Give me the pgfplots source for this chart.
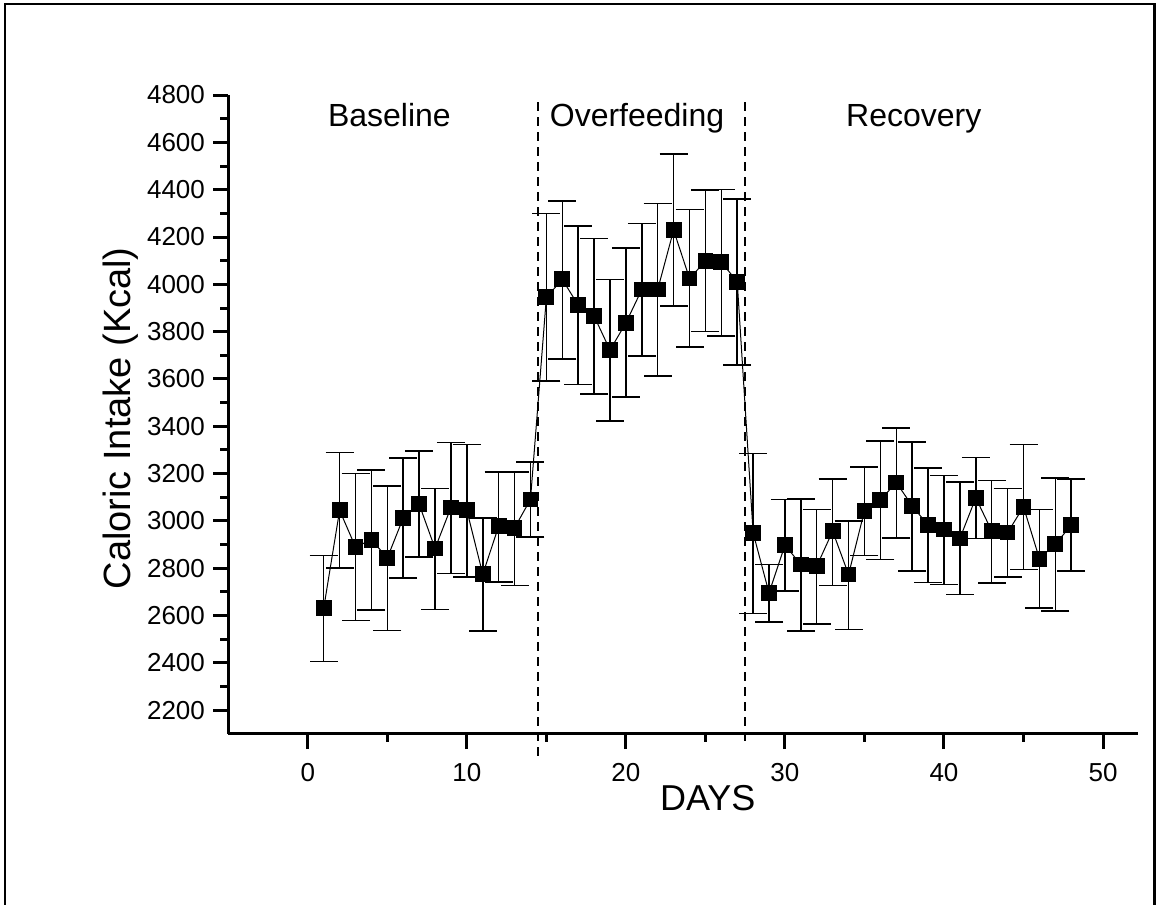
\documentclass[border=0pt]{standalone}
\usepackage{fontspec}
\setmainfont{Liberation Sans}
\usepackage{pgfplots}
\usepackage{pgfplotstable}
\pgfplotsset{compat=1.18}
\pgfplotstableread{
x y ep em
1 2632 223 225
2 3045 244 243
3 2890 310 310
4 2921 294 298
5 2844 303 306
6 3013 254 253
7 3071 224 223
8 2884 253 258
9 3057 275 279
10 3045 278 281
11 2775 238 240
12 2978 229 236
13 2971 236 243
14 3091 159 158
15 3945 355 354
16 4021 332 336
17 3912 334 335
18 3866 328 330
19 3722 299 300
20 3837 317 314
21 3978 279 280
22 3978 364 365
23 4229 322 321
24 4025 292 289
25 4098 300 298
26 4094 307 312
27 4011 349 352
28 2950 335 341
29 2696 121 123
30 2898 193 194
31 2816 277 281
32 2809 239 245
33 2957 221 229
34 2774 225 232
35 3043 186 189
36 3088 250 251
37 3163 229 235
38 3064 270 276
39 2982 242 242
40 2964 229 233
41 2926 239 237
42 3098 170 172
43 2958 214 220
44 2951 186 187
45 3060 263 265
46 2841 207 209
47 2902 280 282
48 2982 195 194
}\datatable
\begin{document}
\begin{tikzpicture}
\path[use as bounding box] (0pt,0pt) rectangle (579pt,452.5pt);
\draw[line width=1.2pt] (2.5pt,0pt) -- (2.5pt,450.5pt) -- (577.25pt,450.5pt) -- (577.25pt,0pt);
\begin{axis}[
  at={(114.15pt,85.5pt)}, anchor=south west,
  scale only axis, width=454.85pt, height=319.5pt,
  xmin=-5, xmax=52.2, ymin=2100, ymax=4800,
  axis x line=bottom, axis y line=left,
  axis line style={-, line width=1.5pt},
  xtick={0,10,...,50}, ytick={2200,2400,...,4800},
  minor x tick num=1, minor y tick num=1,
  tick align=outside,
  major tick length=7.5pt, minor tick length=4pt,
  every tick/.style={line width=1.5pt, black},
  /pgf/number format/assume math mode=true,
  /pgf/number format/1000 sep={},
  tick label style={font=\fontsize{13}{15}\selectfont},
  xticklabel style={anchor=north, inner sep=0pt, yshift=-7pt},
  yticklabel style={anchor=east, inner sep=0pt, xshift=-4pt},
  xlabel={DAYS},
  ylabel={Caloric Intake (Kcal)},
  xlabel style={font=\fontsize{18}{20}\selectfont, at={(axis description cs:0.527,-0.119)}, anchor=base},
  ylabel style={font=\fontsize{19}{21}\selectfont, at={(axis description cs:-0.108,0.494)}, anchor=base},
  clip=false,
]
\addplot[black, line width=0.5pt, mark=square*, mark size=3.7pt,
  mark options={fill=black, draw=black, line width=0pt},
  error bars/.cd, y dir=both, y explicit,
  error bar style={line width=0.75pt, black},
  error mark options={rotate=90, mark size=7pt, line width=0.75pt, black}]
  table[x=x, y=y, y error plus=ep, y error minus=em] {\datatable};
\draw[black, line width=1pt, dash pattern=on 4.5pt off 3pt] (axis cs:14.5,4770) -- (axis cs:14.5,2000);
\draw[black, line width=1pt, dash pattern=on 4.5pt off 3pt] (axis cs:27.5,4770) -- (axis cs:27.5,2060);
\node[font=\fontsize{16}{18}\selectfont, anchor=base] at (axis cs:5.13,4665) {Baseline};
\node[font=\fontsize{16}{18}\selectfont, anchor=base] at (axis cs:20.7,4665) {Overfeeding};
\node[font=\fontsize{16}{18}\selectfont, anchor=base] at (axis cs:38.1,4665) {Recovery};
\end{axis}
\end{tikzpicture}
\end{document}
